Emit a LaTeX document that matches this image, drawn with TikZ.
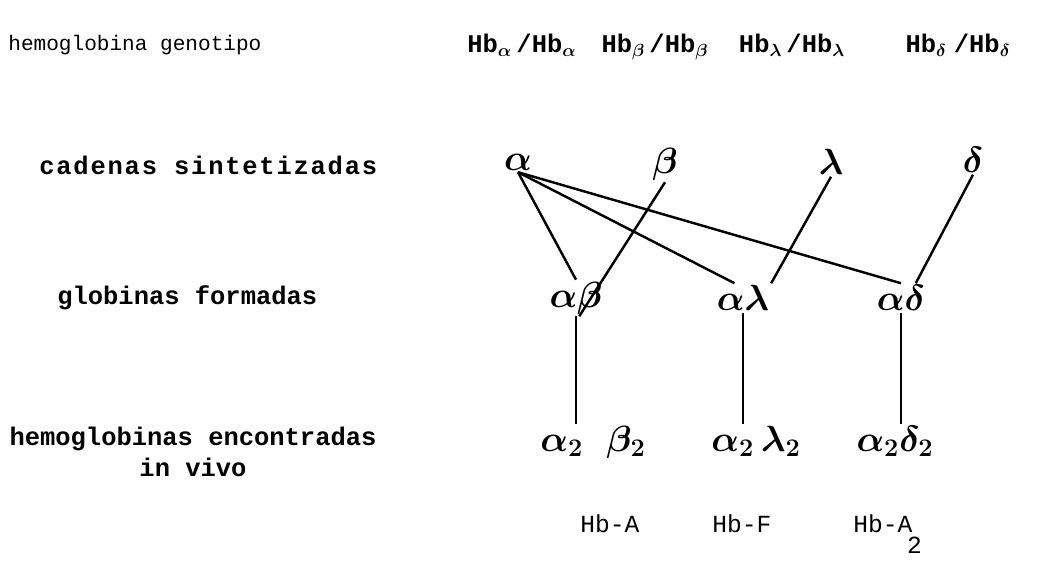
\documentclass[tikz,border=0pt]{standalone}
\usepackage{amsmath}
\usepackage{fontspec}
\setmonofont{Liberation Mono}
\usepackage{tikz}

\begin{document}
\begin{tikzpicture}[x=0.02cm,y=-0.02cm,
        rowlabel/.style={font=\ttfamily\bfseries\fontsize{14.5}{17.5}\selectfont,inner sep=0pt},
        greek/.style={font=\fontsize{20}{24}\selectfont\boldmath,inner sep=1pt},
        pair/.style={font=\fontsize{22}{26}\selectfont\boldmath,inner sep=1pt,anchor=north},
        hbtext/.style={font=\ttfamily\fontsize{14}{16}\selectfont,inner sep=0pt},
        geno/.style={font=\ttfamily\bfseries\fontsize{14.5}{16}\selectfont,inner sep=0pt,anchor=base},
        link/.style={line width=1.4pt}]
    \useasboundingbox (0,0) rectangle (1049,564);
    % row labels on the left
    \node[hbtext,font=\ttfamily\fontsize{12}{14}\selectfont,anchor=west] (gen) at (8,45) {hemoglobina genotipo};
    \node[rowlabel,anchor=west,font=\ttfamily\bfseries\fontsize{14.5}{17.5}\selectfont\addfontfeature{LetterSpace=7}] (cad) at (39,165) {cadenas sintetizadas};
    \node[rowlabel,anchor=west] (glo) at (57,298) {globinas formadas};
    \node[rowlabel,align=center] (enc) at (193,452) {hemoglobinas encontradas\\in vivo};
    % genotypes
    \node[geno] (ga) at (522,53) {Hb$_{\boldsymbol\alpha}$\,/Hb$_{\boldsymbol\alpha}$};
    \node[geno] (gb) at (655,53) {Hb$_{\boldsymbol\beta}$\,/Hb$_{\boldsymbol\beta}$};
    \node[geno] (gl) at (792,53) {Hb$_{\boldsymbol\lambda}$\,/Hb$_{\boldsymbol\lambda}$};
    \node[geno] (gd) at (958,53) {Hb$_{\boldsymbol\delta}$\;/Hb$_{\boldsymbol\delta}$};
    % chains
    \node[greek] (ca) at (518,162) {$\alpha$};
    \node[greek] (cb) at (665,164) {$\beta$};
    \node[greek] (cl) at (831,162) {$\lambda$};
    \node[greek] (cd) at (973,160) {$\delta$};
    % globins
    \node[greek] (gab) at (576,298) {$\alpha\beta$};
    \node[greek] (gal) at (743,298) {$\alpha\lambda$};
    \node[greek] (gad) at (901,298) {$\alpha\delta$};
    % hemoglobins
    \node[pair] (hab) at (593,424) {$\alpha_2\;\;\beta_2$};
    \node[pair] (hal) at (756,424) {$\alpha_2\,\lambda_2$};
    \node[pair] (had) at (895,424) {$\alpha_2\delta_2$};
    \node[hbtext,anchor=base west] (na) at (580,532) {Hb-A};
    \node[hbtext,anchor=base west] (nf) at (712,532) {Hb-F};
    \node[hbtext,anchor=base west] (na2) at (853,532) {Hb-A\raisebox{-12pt}{\kern-3pt 2}};
    % connections
    \draw[link] (ca.south) -- (gab.north);
    \draw[link] (ca.south) -- (gal.120);
    \draw[link] (ca.south) -- (gad.north);
    \draw[link] (cb.south) -- (gab.-80);
    \draw[link] (cl.south) -- (gal.north east);
    \draw[link] (cd.south) -- (gad.45);
    \draw[link] (gab.south) -- (gab.south |- hab.north);
    \draw[link] (gal.south) -- (gal.south |- hal.north);
    \draw[link] (gad.south) -- (gad.south |- had.north);
\end{tikzpicture}
\end{document}
